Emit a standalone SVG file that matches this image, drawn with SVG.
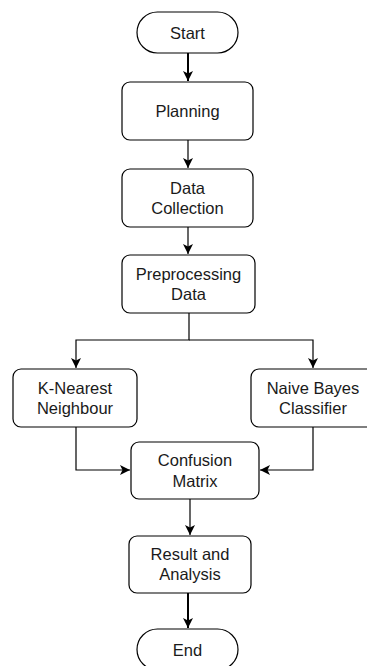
<svg xmlns="http://www.w3.org/2000/svg" width="367" height="666" viewBox="0 0 367 666">
<style>
.box{fill:#fff;stroke:#000;stroke-width:1.2}
.t{font-family:"Liberation Sans",Arial,sans-serif;font-size:16.5px;fill:#1a1a1a;text-anchor:middle}
.c{fill:none;stroke:#000;stroke-width:1.2}
.thick{stroke-width:2}
</style>
<defs>
<marker id="ah" markerUnits="userSpaceOnUse" markerWidth="12" markerHeight="12" viewBox="-11 -6 12 12" refX="0" refY="0" orient="auto">
<path d="M0,0 L-10,-5 L-7.5,0 L-10,5 Z" fill="#000"/>
</marker>
</defs>
<rect width="367" height="666" fill="#fff"/>
<g id="connectors">
<path class="c thick" d="M188,53 V81" marker-end="url(#ah)"/>
<path class="c" d="M188,140 V168" marker-end="url(#ah)"/>
<path class="c" d="M188,227 V254" marker-end="url(#ah)"/>
<path class="c" d="M189,313 V340 H76 V368" marker-end="url(#ah)"/>
<path class="c" d="M189,340 H313 V368" marker-end="url(#ah)"/>
<path class="c" d="M76,427 V470 H130" marker-end="url(#ah)"/>
<path class="c" d="M313,427 V470 H260" marker-end="url(#ah)"/>
<path class="c" d="M190,499 V535" marker-end="url(#ah)"/>
<path class="c thick" d="M188,593 V628" marker-end="url(#ah)"/>
</g>
<g id="start">
<rect class="box" x="137" y="12" width="101" height="41" rx="20.5"/>
<text class="t" x="187.5" y="38.5">Start</text>
</g>
<g id="planning">
<rect class="box" x="122" y="82" width="131" height="58" rx="8"/>
<text class="t" x="187.5" y="117">Planning</text>
</g>
<g id="data-collection">
<rect class="box" x="122" y="169" width="131" height="58" rx="8"/>
<text class="t" x="187.5" y="194">Data</text>
<text class="t" x="187.5" y="214">Collection</text>
</g>
<g id="preprocessing">
<rect class="box" x="122" y="255" width="133" height="58" rx="8"/>
<text class="t" x="188.5" y="280">Preprocessing</text>
<text class="t" x="188.5" y="300">Data</text>
</g>
<g id="knn">
<rect class="box" x="13" y="369" width="124" height="58" rx="8"/>
<text class="t" x="75" y="394">K-Nearest</text>
<text class="t" x="75" y="414">Neighbour</text>
</g>
<g id="naive-bayes">
<rect class="box" x="251" y="369" width="124" height="58" rx="8"/>
<text class="t" x="313" y="394">Naive Bayes</text>
<text class="t" x="313" y="414">Classifier</text>
</g>
<g id="confusion">
<rect class="box" x="131" y="442" width="128" height="57" rx="8"/>
<text class="t" x="195" y="466">Confusion</text>
<text class="t" x="195" y="487">Matrix</text>
</g>
<g id="result">
<rect class="box" x="129" y="536" width="122" height="57" rx="8"/>
<text class="t" x="190" y="560">Result and</text>
<text class="t" x="190" y="580">Analysis</text>
</g>
<g id="end">
<rect class="box" x="137" y="629" width="101" height="41" rx="20.5"/>
<text class="t" x="187.5" y="655.5">End</text>
</g>
</svg>
